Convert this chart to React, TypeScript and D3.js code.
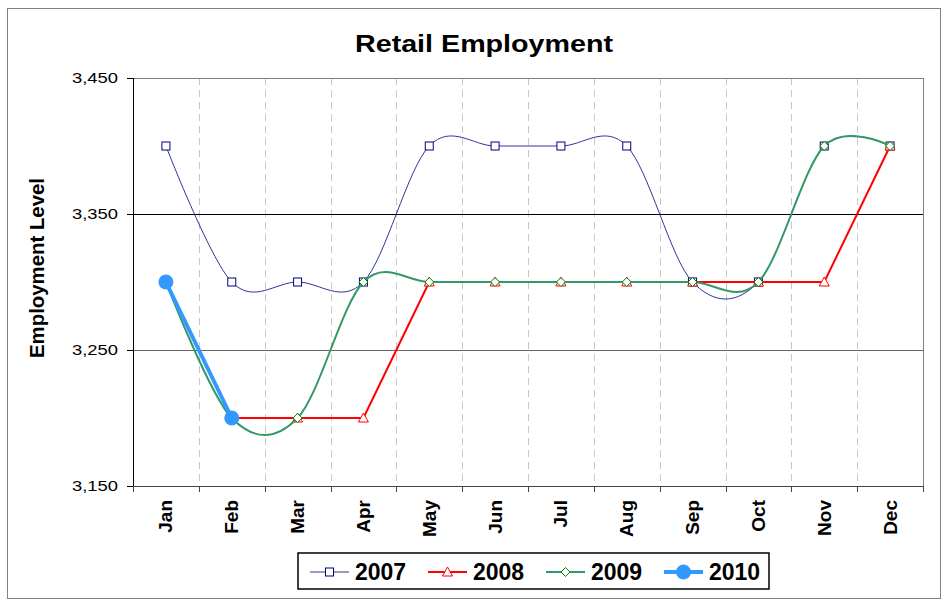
import React from "react";
import * as d3 from "d3";

const months = ["Jan", "Feb", "Mar", "Apr", "May", "Jun", "Jul", "Aug", "Sep", "Oct", "Nov", "Dec"];
const yTicks = [3150, 3250, 3350, 3450];
const s2007 = [3400, 3300, 3300, 3300, 3400, 3400, 3400, 3400, 3300, 3300, 3400, 3400];
const s2008 = [3300, 3200, 3200, 3200, 3300, 3300, 3300, 3300, 3300, 3300, 3300, 3400];
const s2009 = [3300, 3200, 3200, 3300, 3300, 3300, 3300, 3300, 3300, 3300, 3400, 3400];
const s2010 = [3300, 3200];

const W = 947, H = 602;
const L = 133, R = 923, T = 78, B = 486;
const FONT = "'Liberation Sans', Arial, sans-serif";

export default function App() {
  const x = d3.scaleBand<string>().domain(months).range([L, R]).padding(0);
  const y = d3.scaleLinear().domain([3150, 3450]).range([B, T]);
  const cx = (i: number) => (x(months[i]) as number) + x.bandwidth() / 2;

  const smooth = d3.line<number>().x((_, i) => cx(i)).y((v) => y(v)).curve(d3.curveCatmullRom.alpha(0));
  const straight = d3.line<number>().x((_, i) => cx(i)).y((v) => y(v));

  const bounds = months.map((m) => x(m) as number).concat([R]);

  const square = (px: number, py: number, k: string) => (
    <rect key={k} x={px - 4} y={py - 4} width={8} height={8} fill="#fff" stroke="#000080" strokeWidth={1} />
  );
  const tri = (px: number, py: number, k: string) => (
    <path key={k} d={`M${px},${py - 5}L${px + 5},${py + 4}L${px - 5},${py + 4}Z`} fill="#fff" stroke="#ff0000" strokeWidth={1} />
  );
  const diamond = (px: number, py: number, k: string) => (
    <path key={k} d={`M${px},${py - 4.5}L${px + 4.5},${py}L${px},${py + 4.5}L${px - 4.5},${py}Z`} fill="#fff" stroke="#008000" strokeWidth={1} />
  );
  const circle = (px: number, py: number, k: string) => (
    <circle key={k} cx={px} cy={py} r={7.5} fill="#3399ff" />
  );

  const legendItems = [
    { label: "2007", color: "#333399", w: 1, m: square, x0: 310 },
    { label: "2008", color: "#ff0000", w: 2, m: tri, x0: 428 },
    { label: "2009", color: "#339966", w: 2, m: diamond, x0: 546 },
    { label: "2010", color: "#3399ff", w: 4, m: circle, x0: 664 },
  ];

  const hy = (v: number) => Math.round(y(v)) + 0.5;

  return (
    <svg width={W} height={H} style={{ position: "absolute", left: 0, top: 0, background: "#fff" }}>
      <rect x={0} y={0} width={W} height={H} fill="#fff" />
      <rect x={7.5} y={8.5} width={933} height={590} fill="none" stroke="#808080" strokeWidth={1} />
      <text x={484} y={52} textAnchor="middle" fontFamily={FONT} fontWeight="bold" fontSize={24} textLength={258} lengthAdjust="spacingAndGlyphs">
        Retail Employment
      </text>

      {/* vertical dashed gridlines */}
      {bounds.slice(1, -1).map((bx, i) => (
        <line key={"v" + i} x1={Math.round(bx) + 0.5} x2={Math.round(bx) + 0.5} y1={T} y2={B} stroke="#c8c8c8" strokeWidth={1} strokeDasharray="7,5" />
      ))}
      {/* horizontal gridlines */}
      <line x1={L} x2={R} y1={hy(3450)} y2={hy(3450)} stroke="#808080" strokeWidth={1} />
      <line x1={L} x2={R} y1={hy(3350)} y2={hy(3350)} stroke="#000" strokeWidth={1} />
      <line x1={L} x2={R} y1={hy(3250)} y2={hy(3250)} stroke="#666" strokeWidth={1} />
      <line x1={R + 0.5} x2={R + 0.5} y1={T} y2={B} stroke="#808080" strokeWidth={1} />

      {/* y axis */}
      <line x1={L + 0.5} x2={L + 0.5} y1={T} y2={B + 5} stroke="#000" strokeWidth={1} />
      {yTicks.map((t) => (
        <g key={"yt" + t}>
          <line x1={L - 6} x2={L} y1={hy(t)} y2={hy(t)} stroke="#000" strokeWidth={1} />
          <text x={118} y={y(t)} dy="0.35em" textAnchor="end" fontFamily={FONT} fontSize={15} textLength={46} lengthAdjust="spacingAndGlyphs">
            {d3.format(",")(t)}
          </text>
        </g>
      ))}
      <text transform={`translate(44,268) rotate(-90)`} textAnchor="middle" fontFamily={FONT} fontWeight="bold" fontSize={20} textLength={180} lengthAdjust="spacingAndGlyphs">
        Employment Level
      </text>

      {/* x axis */}
      <line x1={L} x2={R} y1={hy(3150)} y2={hy(3150)} stroke="#444" strokeWidth={1} />
      {bounds.map((bx, i) => (
        <line key={"xt" + i} x1={Math.round(bx) + 0.5} x2={Math.round(bx) + 0.5} y1={B} y2={B + 6} stroke="#444" strokeWidth={1} />
      ))}
      {months.map((m, i) => (
        <text key={"xl" + m} transform={`translate(${cx(i) + 6.5},${500}) rotate(-90)`} textAnchor="end" fontFamily={FONT} fontWeight="bold" fontSize={19}>
          {m}
        </text>
      ))}

      {/* series */}
      <path d={smooth(s2007) || ""} fill="none" stroke="#333399" strokeWidth={1} />
      {s2007.map((v, i) => square(cx(i), y(v), "a" + i))}
      <path d={straight(s2008) || ""} fill="none" stroke="#ff0000" strokeWidth={2} />
      {s2008.map((v, i) => tri(cx(i), y(v), "b" + i))}
      <path d={smooth(s2009) || ""} fill="none" stroke="#339966" strokeWidth={2} />
      {s2009.map((v, i) => diamond(cx(i), y(v), "c" + i))}
      <path d={straight(s2010) || ""} fill="none" stroke="#3399ff" strokeWidth={4} />
      {s2010.map((v, i) => circle(cx(i), y(v), "d" + i))}

      {/* legend */}
      <rect x={298} y={553} width={471} height={36} fill="#fff" stroke="#000" strokeWidth={1.5} />
      {legendItems.map((it) => (
        <g key={it.label}>
          <line x1={it.x0} x2={it.x0 + 39} y1={572} y2={572} stroke={it.color} strokeWidth={it.w} />
          {it.m(it.x0 + 19.5, 572, "lm" + it.label)}
          <text x={it.x0 + 45} y={580} fontFamily={FONT} fontWeight="bold" fontSize={23}>
            {it.label}
          </text>
        </g>
      ))}
    </svg>
  );
}
